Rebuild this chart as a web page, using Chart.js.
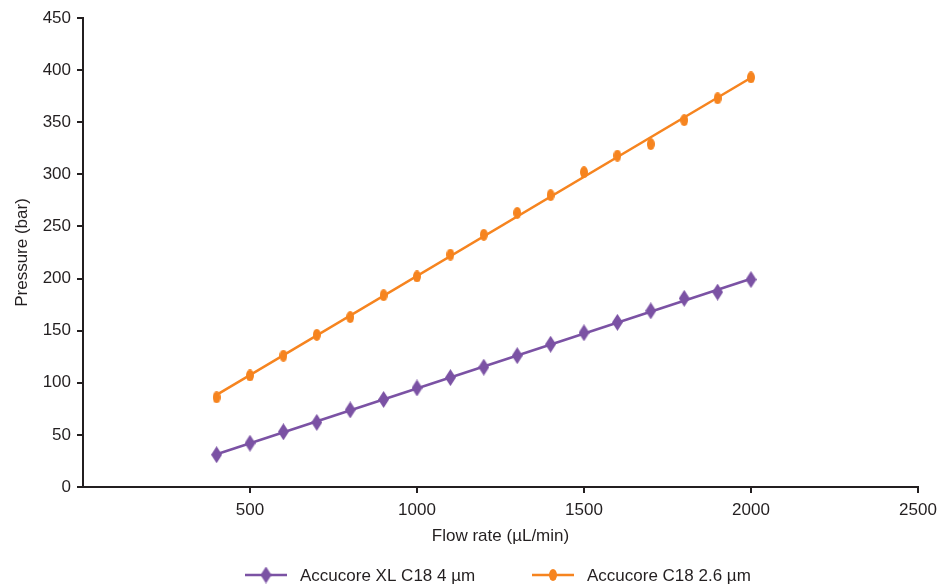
<!DOCTYPE html>
<html>
<head>
<meta charset="utf-8">
<script src="https://cdn.jsdelivr.net/npm/chart.js@4"></script>
<style>
  html, body { margin: 0; padding: 0; background: #fff; }
  #wrap { width: 937px; height: 585px; }
</style>
</head>
<body>
<div id="wrap"><canvas id="myChart" width="937" height="585"></canvas></div>
<script>
// Flow rates (uL/min)
const flowRates = [400, 500, 600, 700, 800, 900, 1000, 1100, 1200, 1300, 1400, 1500, 1600, 1700, 1800, 1900, 2000];
// Pressure (bar)
const xlPressure = [31, 42, 53, 62, 74, 84, 95, 105, 115, 126, 137, 148, 158, 169, 181, 187, 199];
const c18Pressure = [86, 107, 126, 146, 163, 184, 202, 223, 242, 263, 280, 302, 318, 329, 352, 373, 393];
const seriesNames = ['Accucore XL C18 4 µm', 'Accucore C18 2.6 µm'];
const xTicks = [500, 1000, 1500, 2000, 2500];

const purple = '#7b52a4';
const orange = '#f6841f';
const ink = '#231f20';
const fontFamily = '"Liberation Sans", Arial, sans-serif';
const fontSize = 17;

// Tall diamond / ellipse markers like the original
function makeMarker(shape, color, w, h) {
    const c = document.createElement('canvas');
    c.width = w; c.height = h;
    const g = c.getContext('2d');
    g.fillStyle = color;
    g.beginPath();
    if (shape === 'diamond') {
        g.moveTo(w / 2, 0); g.lineTo(w, h / 2); g.lineTo(w / 2, h); g.lineTo(0, h / 2);
        g.closePath();
    } else {
        g.ellipse(w / 2, h / 2, w / 2, h / 2, 0, 0, Math.PI * 2);
    }
    g.fill();
    return c;
}
const diamond = makeMarker('diamond', purple, 11, 17);
const dot = makeMarker('ellipse', orange, 8, 12);

// least squares trend line through the measured points
function trend(xs, ys) {
    const n = xs.length;
    const mx = xs.reduce((a, b) => a + b, 0) / n;
    const my = ys.reduce((a, b) => a + b, 0) / n;
    let num = 0, den = 0;
    xs.forEach((x, i) => { num += (x - mx) * (ys[i] - my); den += (x - mx) * (x - mx); });
    const slope = num / den;
    const first = xs[0], last = xs[n - 1];
    return [{ x: first, y: my + slope * (first - mx) }, { x: last, y: my + slope * (last - mx) }];
}

const toPoints = ys => flowRates.map((x, i) => ({ x: x, y: ys[i] }));

// Legend drawn under the axes: line + marker + label
const bottomLegend = {
    id: 'bottomLegend',
    afterDraw(chart) {
        const ctx = chart.ctx;
        const items = [
            { x: 245, color: purple, img: diamond, text: seriesNames[0] },
            { x: 532, color: orange, img: dot, text: seriesNames[1] }
        ];
        const y = 575;
        ctx.save();
        items.forEach(it => {
            ctx.strokeStyle = it.color;
            ctx.lineWidth = 2.5;
            ctx.beginPath();
            ctx.moveTo(it.x, y);
            ctx.lineTo(it.x + 42, y);
            ctx.stroke();
            ctx.drawImage(it.img, it.x + 21 - it.img.width / 2, y - it.img.height / 2);
            ctx.fillStyle = ink;
            ctx.font = fontSize + 'px ' + fontFamily;
            ctx.textBaseline = 'middle';
            ctx.textAlign = 'left';
            ctx.fillText(it.text, it.x + 55, y + 1);
        });
        ctx.restore();
    }
};

const ctx = document.getElementById('myChart').getContext('2d');
new Chart(ctx, {
    type: 'scatter',
    data: {
        datasets: [
            {
                label: seriesNames[0] + ' fit',
                type: 'line',
                data: trend(flowRates, xlPressure),
                borderColor: purple,
                borderWidth: 2.5,
                pointRadius: 0,
                fill: false
            },
            {
                label: seriesNames[1] + ' fit',
                type: 'line',
                data: trend(flowRates, c18Pressure),
                borderColor: orange,
                borderWidth: 2.5,
                pointRadius: 0,
                fill: false
            },
            {
                label: seriesNames[0],
                data: toPoints(xlPressure),
                pointStyle: diamond,
                showLine: false
            },
            {
                label: seriesNames[1],
                data: toPoints(c18Pressure),
                pointStyle: dot,
                showLine: false
            }
        ]
    },
    options: {
        responsive: false,
        animation: false,
        layout: { padding: { left: 8, right: 19, top: 18, bottom: 38 } },
        plugins: {
            legend: { display: false },
            tooltip: { enabled: false }
        },
        scales: {
            x: {
                type: 'linear',
                min: 0,
                max: 2500,
                afterBuildTicks: scale => { scale.ticks = xTicks.map(v => ({ value: v })); },
                afterFit: scale => { scale.height = 60; scale.paddingRight = 0; },
                grid: { drawOnChartArea: false, drawTicks: true, tickLength: 6, color: ink, lineWidth: 2 },
                border: { color: ink, width: 2 },
                ticks: {
                    color: ink,
                    padding: 7,
                    callback: v => String(v),
                    font: { family: fontFamily, size: fontSize }
                },
                title: {
                    display: true,
                    text: 'Flow rate (µL/min)',
                    color: ink,
                    padding: { top: 4, bottom: 0 },
                    font: { family: fontFamily, size: fontSize }
                }
            },
            y: {
                min: 0,
                max: 450,
                afterFit: scale => { scale.width = 75; scale.paddingTop = 0; },
                grid: { drawOnChartArea: false, drawTicks: true, tickLength: 6, color: ink, lineWidth: 2 },
                border: { color: ink, width: 2 },
                ticks: {
                    stepSize: 50,
                    color: ink,
                    padding: 6,
                    font: { family: fontFamily, size: fontSize }
                },
                title: {
                    display: true,
                    text: 'Pressure (bar)',
                    color: ink,
                    padding: { bottom: 2 },
                    font: { family: fontFamily, size: fontSize }
                }
            }
        }
    },
    plugins: [bottomLegend]
});
</script>
</body>
</html>
